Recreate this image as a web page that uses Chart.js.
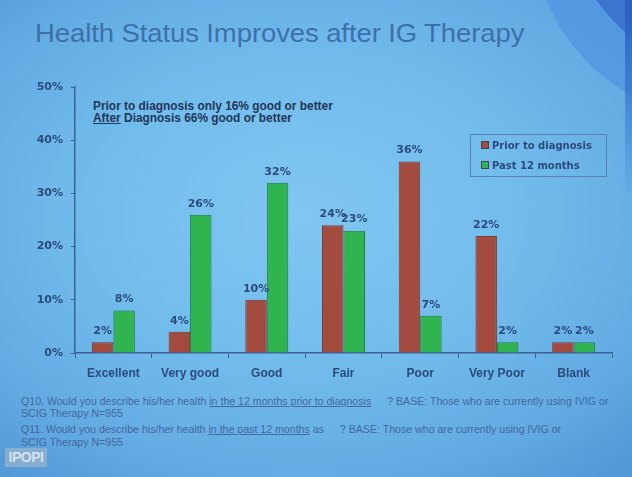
<!DOCTYPE html>
<html><head><meta charset="utf-8">
<script src="https://cdn.jsdelivr.net/npm/chart.js@4.4.0/dist/chart.umd.min.js"></script>
<style>
html,body{margin:0;padding:0;width:632px;height:477px;overflow:hidden;}
body{position:relative;font-family:"Liberation Sans",Arial,sans-serif;
 background:radial-gradient(ellipse 75% 70% at 48% 45%, #80c7f1 0%, #72bcec 45%, #62aae2 80%, #5299d6 100%);}
#sw1{position:absolute;left:535px;top:-250px;width:450px;height:380px;border-radius:50%;background:rgba(80,150,225,0.75);}
#sw2{position:absolute;left:565px;top:-280px;width:440px;height:370px;border-radius:50%;background:rgba(55,110,205,0.85);}
#sw3{position:absolute;left:625px;top:0;width:7px;height:200px;background:linear-gradient(#2c5fbf,rgba(60,125,210,0.6) 60%,rgba(80,150,220,0));}
#title{position:absolute;left:35px;top:19px;font-size:27.5px;color:#3d70ab;white-space:nowrap;letter-spacing:-0.1px;transform:scaleY(0.92);transform-origin:left top;}
#note{position:absolute;left:93px;top:100px;font-size:11.9px;font-weight:bold;line-height:12px;color:#1f3658;white-space:nowrap;}
#legend{position:absolute;left:470px;top:134px;width:135px;height:41px;border:1px solid #5b80b2;box-sizing:content-box;font-family:"DejaVu Sans",sans-serif;font-size:10px;font-weight:bold;color:#2b4b7c;}
.li{position:absolute;left:10px;white-space:nowrap;}
.mk{display:inline-block;width:6px;height:6px;margin-right:3px;vertical-align:0px;border:1px solid #445;}
#foot{position:absolute;left:21px;top:396px;font-size:10.6px;line-height:11.5px;color:#4468a0;white-space:nowrap;}
#foot div{position:absolute;left:0;}
.gap{display:inline-block;width:16px;}
#logo{position:absolute;left:5px;top:448px;width:42px;height:19px;background:rgba(175,185,200,0.55);font-size:14px;font-weight:bold;line-height:19px;text-align:center;color:rgba(230,236,244,0.85);letter-spacing:-0.5px;}
canvas{position:absolute;left:0;top:0;}
</style></head>
<body>
<div id="sw1"></div><div id="sw2"></div><div id="sw3"></div>
<div id="title">Health Status Improves after IG Therapy</div>
<div id="note">Prior to diagnosis only 16% good or better<br><u>After</u> Diagnosis 66% good or better</div>
<div id="foot">
<div style="top:0">Q10. Would you describe his/her health <u>in the 12 months prior to diagnosis</u><span class="gap"></span>? BASE: Those who are currently using IVIG or</div>
<div style="top:11.5px">SCIG Therapy N=955</div>
<div style="top:28px">Q11. Would you describe his/her health <u>in the past 12 months</u> as<span class="gap"></span>? BASE: Those who are currently using IVIG or</div>
<div style="top:41px">SCIG Therapy N=955</div>
</div>
<div id="logo">IPOPI</div>
<canvas id="c" width="632" height="477"></canvas>
<div id="legend"></div>
<script>
const categories = ['Excellent','Very good','Good','Fair','Poor','Very Poor','Blank'];
const priorToDiagnosis = [2,4,10,24,36,22,2];
const past12Months = [8,26,32,23,7,2,2];
const seriesNames = ['Prior to diagnosis','Past 12 months'];
const yTickStep = 10;
const yMax = 50;

const textColor = '#2b4b7c';
const axisColor = '#3d5f95';
const numFont = '"DejaVu Sans", sans-serif';

const valueLabels = {
  id:'valueLabels',
  afterDatasetsDraw(chart){
    const ctx = chart.ctx;
    ctx.save();
    ctx.font = 'bold 11px ' + numFont;
    ctx.fillStyle = textColor;
    ctx.textAlign = 'center';
    ctx.textBaseline = 'middle';
    chart.data.datasets.forEach((ds,i)=>{
      chart.getDatasetMeta(i).data.forEach((bar,j)=>{
        ctx.fillText(ds.data[j] + '%', bar.x, bar.y - 11);
      });
    });
    ctx.restore();
  }
};

const chart = new Chart(document.getElementById('c'), {
  type:'bar',
  data:{
    labels:categories,
    datasets:[
      {label:seriesNames[0], data:priorToDiagnosis, backgroundColor:'#a44b3f', borderColor:'#7a3a36', borderWidth:1},
      {label:seriesNames[1], data:past12Months, backgroundColor:'#2fb450', borderColor:'#1f7a45', borderWidth:1}
    ]
  },
  options:{
    responsive:false,
    animation:false,
    devicePixelRatio:1,
    categoryPercentage:0.56,
    barPercentage:1,
    layout:{padding:{top:87,right:20,left:0,bottom:0}},
    plugins:{legend:{display:false}, title:{display:false}, tooltip:{enabled:false}},
    scales:{
      x:{
        grid:{offset:true, drawOnChartArea:false, drawTicks:true, tickLength:5, color:axisColor, lineWidth:1},
        border:{display:true, color:axisColor, width:1.5},
        ticks:{font:{size:12, weight:'bold', family:'"Liberation Sans", Arial, sans-serif'}, color:textColor, padding:8},
        afterFit(s){ s.height = 124; }
      },
      y:{
        min:0, max:yMax,
        grid:{drawOnChartArea:false, drawTicks:true, tickLength:4, color:axisColor},
        border:{display:true, color:axisColor, width:1.5},
        ticks:{stepSize:yTickStep, callback:v=>v+'%', font:{size:11, weight:'bold', family:numFont}, color:textColor, padding:8},
        afterFit(s){ s.width = 75; }
      }
    }
  },
  plugins:[valueLabels]
});

const lg = document.getElementById('legend');
chart.data.datasets.forEach((ds,i)=>{
  const d = document.createElement('div');
  d.className = 'li';
  d.style.top = (5 + i*20) + 'px';
  d.innerHTML = '<span class="mk" style="background:'+ds.backgroundColor+'"></span>' + ds.label;
  lg.appendChild(d);
});
</script>
</body></html>
